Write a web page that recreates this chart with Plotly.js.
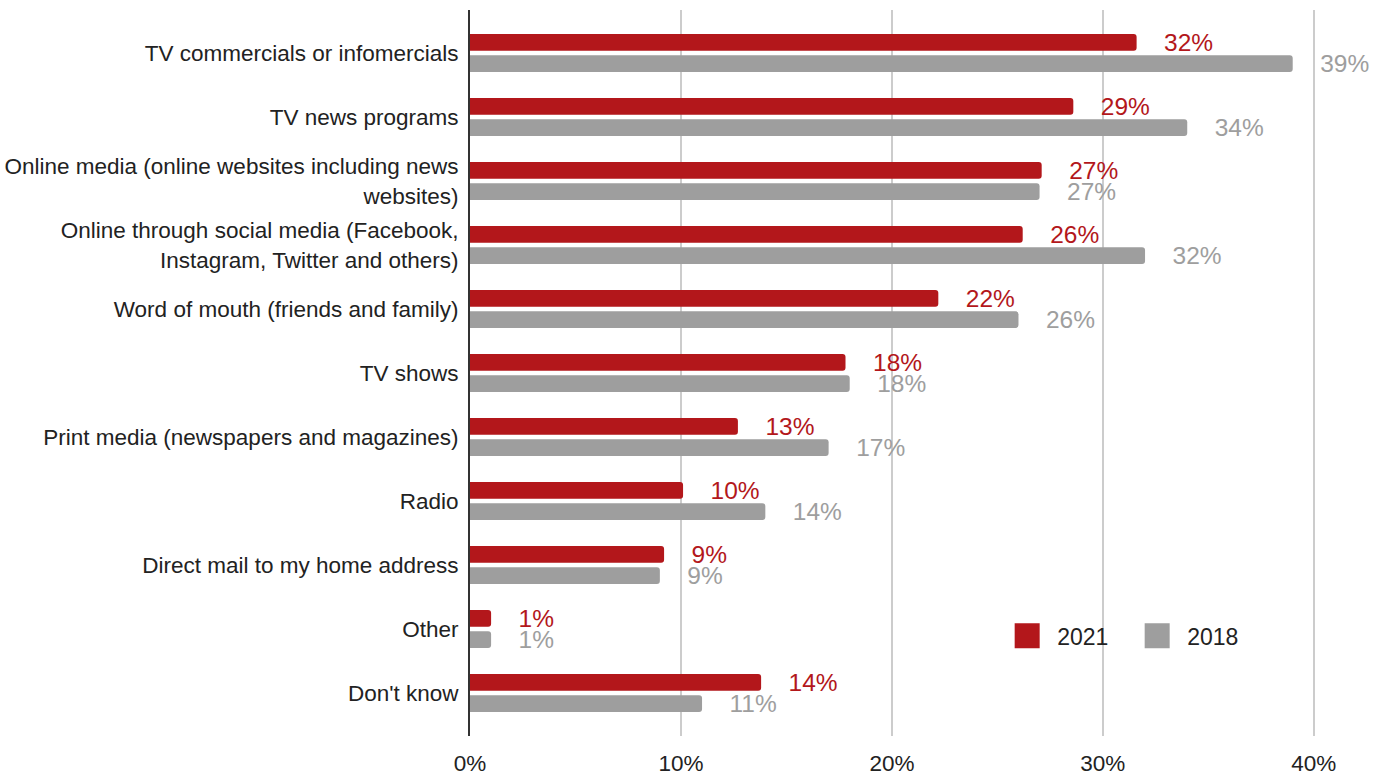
<!DOCTYPE html>
<html>
<head>
<meta charset="utf-8">
<script src="https://cdn.plot.ly/plotly-3.0.1.min.js"></script>
<style>
html,body{margin:0;padding:0;background:#fff;}
#chart{width:1373px;height:775px;}
</style>
</head>
<body>
<div id="chart"></div>
<script>
const categories = [
  "TV commercials or infomercials",
  "TV news programs",
  "Online media (online websites including news<br>websites)",
  "Online through social media (Facebook,<br>Instagram, Twitter and others)",
  "Word of mouth (friends and family)",
  "TV shows",
  "Print media (newspapers and magazines)",
  "Radio",
  "Direct mail to my home address",
  "Other",
  "Don't know"
];
const values2021 = [31.6, 28.6, 27.1, 26.2, 22.2, 17.8, 12.7, 10.1, 9.2, 1.0, 13.8];
const values2018 = [39, 34, 27, 32, 26, 18, 17, 14, 9, 1, 11];
const labels2021 = ["32%", "29%", "27%", "26%", "22%", "18%", "13%", "10%", "9%", "1%", "14%"];
const labels2018 = ["39%", "34%", "27%", "32%", "26%", "18%", "17%", "14%", "9%", "1%", "11%"];
const seriesNames = ["2021", "2018"];
const xTicks = [0, 10, 20, 30, 40];

const RED = "#b3171b";
const GRAY = "#9e9e9e";
const FONT = "Liberation Sans, Arial, sans-serif";
const PAD = "\u00a0\u00a0\u00a0\u2006";

const traces = [
  {
    type: "bar", orientation: "h", name: seriesNames[0],
    y: categories, x: values2021,
    text: labels2021.map(s => PAD + s), textposition: "outside",
    textfont: {color: RED, size: 24.5, family: FONT},
    constraintext: "none", cliponaxis: false,
    marker: {color: RED, cornerradius: 3},
    hoverinfo: "skip"
  },
  {
    type: "bar", orientation: "h", name: seriesNames[1],
    y: categories, x: values2018,
    text: labels2018.map(s => PAD + s), textposition: "outside",
    textfont: {color: GRAY, size: 24.5, family: FONT},
    constraintext: "none", cliponaxis: false,
    marker: {color: GRAY, cornerradius: 3},
    hoverinfo: "skip"
  }
];

const layout = {
  width: 1373, height: 775,
  margin: {l: 470, r: 17, t: 10, b: 39, autoexpand: false},
  paper_bgcolor: "#fff", plot_bgcolor: "#fff",
  font: {family: FONT, color: "#222"},
  barmode: "group", bargap: 0.33, bargroupgap: 0.22,
  showlegend: true,
  legend: {
    orientation: "h", x: 0.595, xanchor: "left", y: 0.138, yanchor: "middle",
    font: {size: 23, color: "#222", family: FONT},
    itemwidth: 50, entrywidth: 65, traceorder: "normal",
    bgcolor: "rgba(0,0,0,0)"
  },
  xaxis: {
    range: [0, 42], tickvals: xTicks, ticktext: xTicks.map(v => v + "%"),
    showgrid: true, gridcolor: "#cccccc", gridwidth: 2,
    zeroline: false, showline: false, ticks: "",
    tickfont: {size: 22.5, color: "#222", family: FONT},
    ticklabelstandoff: 11, fixedrange: true
  },
  yaxis: {
    type: "category", range: [10.672, -0.672],
    showgrid: false, zeroline: false,
    showline: true, linecolor: "#333", linewidth: 2, ticks: "",
    tickfont: {size: 22.5, color: "#222", family: FONT},
    ticklabelstandoff: 5, fixedrange: true
  }
};

Plotly.newPlot("chart", traces, layout, {displayModeBar: false, staticPlot: true}).then(function(){
  document.querySelectorAll("#chart .legend .legendpoints path").forEach(function(p){
    p.setAttribute("d", "M12.5,12.5H-12.5V-12.5H12.5Z");
  });
});
</script>
</body>
</html>
